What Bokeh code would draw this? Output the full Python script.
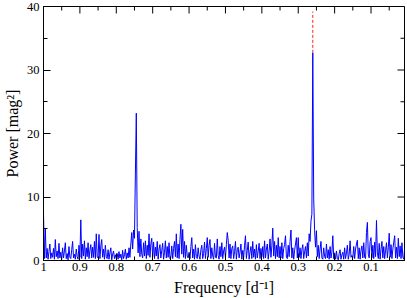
from bokeh.plotting import figure
from bokeh.models import Range1d, FixedTicker, CustomJSTickFormatter
from bokeh.embed import file_html
from bokeh.resources import INLINE

# Frequency grid of the periodogram [1/d]
f_start = 1.0
f_step = 0.0025

# Power [mag^2], from frequency 1.0 downwards
power = [
    7.4, 0.3, 5.0, 0.4, 1.9, 0.2, 1.4, 2.6, 0.3, 1.2, 0.5, 1.9, 0.2, 3.3, 0.6, 1.5, 0.3, 2.7, 0.4, 1.3,
    0.2, 2.0, 0.4, 1.5, 2.8, 0.3, 1.1, 0.1, 2.2, 0.5, 0.3, 1.7, 3.0, 0.4, 1.0, 0.2, 1.8, 0.6, 0.2, 2.4,
    0.5, 6.4, 0.3, 2.6, 0.7, 3.1, 0.2, 2.0, 0.6, 2.8, 0.3, 1.6, 2.5, 0.4, 2.1, 0.5, 3.0, 0.3, 4.2, 0.6,
    0.4, 4.1, 0.3, 2.3, 3.3, 0.5, 1.8, 0.2, 2.4, 0.6, 0.3, 1.7, 0.2, 1.2, 2.0, 0.1, 1.0, 1.5, 0.3, 0.9,
    0.3, 1.1, 0.2, 1.4, 0.4, 1.0, 0.1, 1.6, 0.3, 0.9, 1.8, 0.2, 1.2, 0.4, 2.0, 0.5, 2.6, 4.4, 1.8, 4.8,
    3.5, 13.6, 23.2, 5.2, 1.2, 4.6, 0.6, 3.4, 1.0, 0.4, 2.8, 0.7, 3.1, 0.3, 2.4, 0.8, 4.2, 0.5, 2.6, 3.5,
    0.6, 2.9, 0.3, 2.1, 0.7, 3.0, 0.2, 1.8, 2.5, 0.4, 1.6, 2.7, 0.2, 1.3, 3.1, 0.4, 2.2, 0.5, 2.8, 0.3,
    0.5, 2.3, 0.3, 1.9, 3.0, 0.6, 4.2, 0.4, 2.6, 0.3, 3.3, 5.7, 1.0, 4.9, 0.5, 3.0, 0.3, 2.4, 0.7, 0.4,
    1.3, 0.3, 2.2, 3.6, 0.4, 1.8, 0.2, 2.5, 0.6, 0.3, 2.0, 0.7, 0.2, 1.7, 2.4, 0.3, 1.1, 2.9, 0.3, 1.9,
    3.6, 0.5, 2.4, 3.3, 0.3, 2.0, 0.7, 0.2, 2.7, 0.5, 0.4, 3.4, 0.8, 0.2, 2.2, 0.6, 2.8, 0.3, 1.5, 2.1,
    0.4, 2.5, 4.4, 3.2, 0.4, 2.6, 0.3, 1.9, 2.3, 0.3, 1.4, 3.0, 0.2, 1.7, 2.1, 0.4, 1.3, 2.6, 0.2, 1.6,
    0.5, 2.4, 3.9, 0.3, 1.6, 2.9, 0.2, 1.3, 2.2, 0.3, 3.0, 0.5, 1.8, 0.2, 2.5, 0.4, 1.5, 2.7, 0.3, 1.9,
    0.6, 2.2, 0.3, 3.1, 0.4, 1.8, 2.6, 0.2, 1.5, 3.4, 0.5, 2.3, 5.1, 0.7, 3.0, 0.3, 2.4, 0.6, 3.6, 0.4,
    2.2, 0.4, 2.8, 0.3, 1.9, 2.5, 3.9, 0.5, 0.3, 2.4, 0.6, 3.0, 4.8, 0.4, 2.0, 0.2, 1.6, 2.6, 3.6, 0.4,
    3.6, 0.5, 2.0, 0.3, 1.7, 2.5, 0.3, 1.4, 2.2, 0.4, 2.8, 0.7, 4.2, 3.0, 6.2, 7.3, 32.7, 9.7, 4.7, 2.1,
    4.7, 0.6, 2.4, 0.3, 1.8, 3.0, 0.4, 0.2, 2.0, 0.6, 0.3, 2.6, 0.4, 1.7, 0.2, 2.2, 0.4, 1.3, 3.9, 0.3,
    1.2, 0.2, 1.5, 0.3, 0.1, 1.1, 1.7, 0.2, 0.9, 1.3, 0.2, 2.0, 0.3, 1.2, 2.4, 0.2, 1.0, 3.1, 0.5, 0.8,
    0.4, 2.2, 0.3, 1.8, 2.6, 3.2, 0.3, 2.0, 0.2, 1.6, 2.3, 0.4, 2.8, 0.5, 0.3, 4.4, 6.0, 1.0, 0.4, 3.0,
    3.6, 0.4, 2.4, 0.3, 2.9, 0.6, 6.3, 1.2, 0.3, 2.7, 0.2, 1.8, 3.0, 0.4, 2.2, 0.3, 1.6, 2.8, 0.4, 2.0,
    4.3, 0.5, 2.5, 0.3, 1.8, 2.9, 3.9, 0.4, 2.1, 0.3, 3.5, 0.6, 2.3, 0.3, 2.8, 0.5, 0.2, 2.0,
]
freq = [f_start - f_step * i for i in range(len(power))]

# Red dashed marker above the main peak
mark_freq = [0.26]
mark_low = [32.7]
mark_high = [39.2]

# Axes
x_start, x_end = 1.0, 0.008
y_start, y_end = 0, 40
x_ticks = [1.0, 0.9, 0.8, 0.7, 0.6, 0.5, 0.4, 0.3, 0.2, 0.1]
x_tick_labels = ["1", "0.9", "0.8", "0.7", "0.6", "0.5", "0.4", "0.3", "0.2", "0.1"]
x_minor = [0.95, 0.85, 0.75, 0.65, 0.55, 0.45, 0.35, 0.25, 0.15, 0.05]
y_ticks = [0, 10, 20, 30, 40]
y_minor = [5, 15, 25, 35]

x_label = "Frequency [d⁻¹]"
y_label = "Power [mag²]"

FONT = "Liberation Serif"

p = figure(width=407, height=298,
           x_range=Range1d(x_start, x_end), y_range=Range1d(y_start, y_end),
           output_backend="svg", toolbar_location=None,
           min_border_left=41, min_border_right=3, min_border_top=6, min_border_bottom=38,
           x_axis_label=x_label, y_axis_label=y_label)
p.background_fill_color = "white"
p.border_fill_color = "white"
p.outline_line_color = "black"
p.outline_line_width = 1
p.grid.visible = False

p.line(freq, power, line_color="#0000ff", line_width=1)
p.segment(x0=mark_freq, y0=mark_low, x1=mark_freq, y1=mark_high,
          line_color="#ff2020", line_width=1, line_dash="3 2")

# inward tick marks on the top and right edges (clipped to the frame)
p.scatter(x=x_ticks, y=[y_end] * len(x_ticks), marker="dash", size=14, angle=1.5708,
          line_color="black", line_width=1)
p.scatter(x=x_minor, y=[y_end] * len(x_minor), marker="dash", size=8, angle=1.5708,
          line_color="black", line_width=1)
p.scatter(x=[x_end] * len(y_ticks), y=y_ticks, marker="dash", size=14,
          line_color="black", line_width=1)
p.scatter(x=[x_end] * len(y_minor), y=y_minor, marker="dash", size=8,
          line_color="black", line_width=1)

for ax in (p.xaxis[0], p.yaxis[0]):
    ax.axis_line_color = "black"
    ax.major_tick_line_color = "black"
    ax.minor_tick_line_color = "black"
    ax.major_tick_in = 7
    ax.major_tick_out = 0
    ax.minor_tick_in = 4
    ax.minor_tick_out = 0
    ax.major_label_text_font = FONT
    ax.major_label_text_font_size = "12.5px"
    ax.major_label_text_color = "black"
    ax.axis_label_text_font = FONT
    ax.axis_label_text_font_size = "16px"
    ax.axis_label_text_font_style = "normal"
    ax.axis_label_text_color = "black"

xa = p.xaxis[0]
xa.ticker = FixedTicker(ticks=x_ticks, minor_ticks=x_minor)
xa.formatter = CustomJSTickFormatter(
    args=dict(tick_vals=x_ticks, tick_texts=x_tick_labels),
    code="""
    for (let i = 0; i < tick_vals.length; i++) {
        if (Math.abs(tick_vals[i] - tick) < 1e-9) { return tick_texts[i]; }
    }
    return '';
    """)
xa.major_label_standoff = 2
xa.axis_label_standoff = 5

ya = p.yaxis[0]
ya.ticker = FixedTicker(ticks=y_ticks, minor_ticks=y_minor)
ya.major_label_standoff = 4
ya.axis_label_standoff = 3

open("out.html", "w").write(file_html(p, INLINE))
